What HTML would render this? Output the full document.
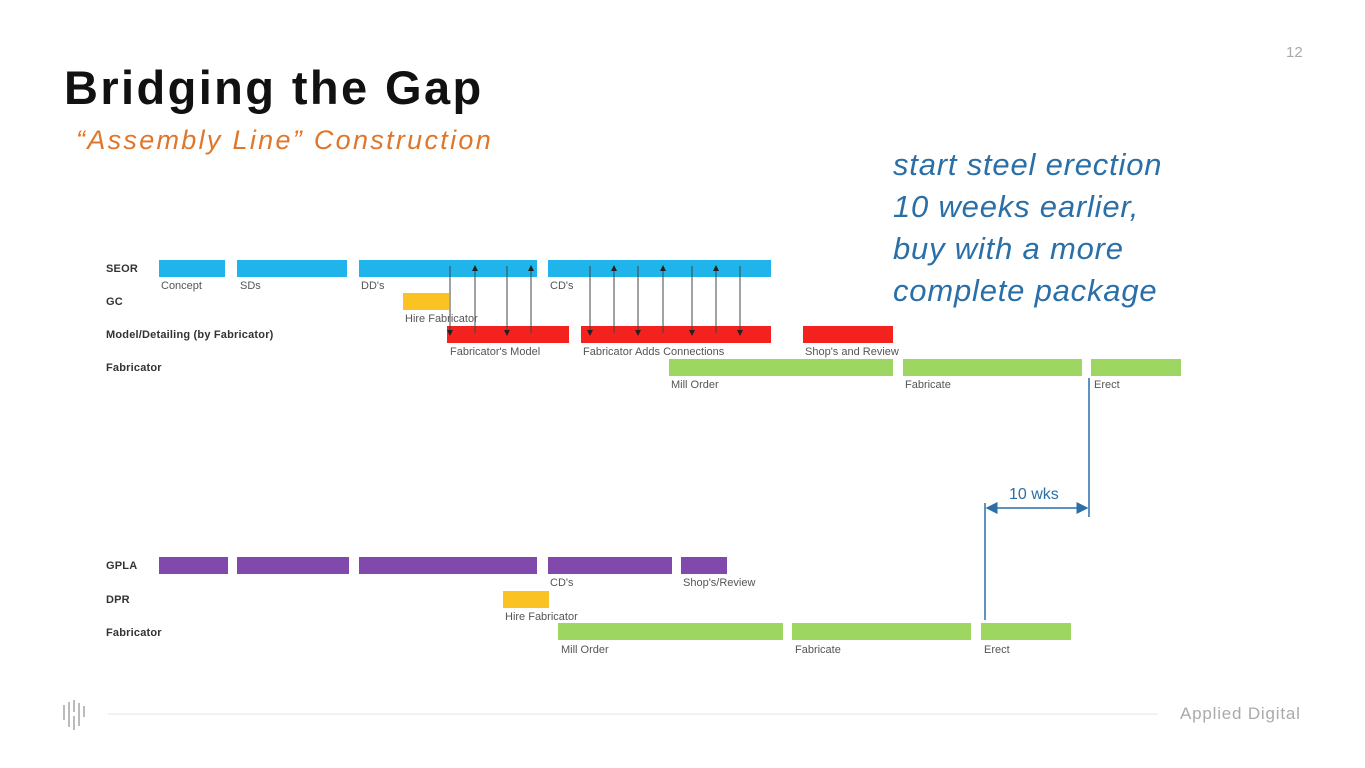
<!DOCTYPE html>
<html><head><style>
body{margin:0;width:1365px;height:768px;background:#fff;font-family:"Liberation Sans",sans-serif;position:relative;overflow:hidden}
.t{position:absolute;white-space:nowrap}
.b{position:absolute;height:17px}
.l{position:absolute;font-size:11px;color:#555;top:0}
.r{position:absolute;font-size:11px;font-weight:bold;color:#333;letter-spacing:0.2px}
</style></head><body>
<div class="t" style="left:1286px;top:44px;font-size:15px;color:#aaa">12</div>
<div class="t" style="left:64px;top:60px;font-size:47px;font-weight:bold;color:#111;letter-spacing:2.4px">Bridging the Gap</div>
<div class="t" style="left:76px;top:125px;font-size:27px;font-style:italic;color:#e0762a;letter-spacing:2.3px">“Assembly Line” Construction</div>
<div class="t" style="left:893px;top:144px;font-size:31px;font-style:italic;color:#2a6fa8;line-height:42px;letter-spacing:0.8px">start steel erection<br>10 weeks earlier,<br>buy with a more<br>complete package</div>

<div class="r" style="left:106px;top:263px">SEOR</div>
<div class="r" style="left:106px;top:296px">GC</div>
<div class="r" style="left:106px;top:329px">Model/Detailing (by Fabricator)</div>
<div class="r" style="left:106px;top:362px">Fabricator</div>

<div class="b" style="left:159px;top:260px;width:66px;background:#1fb5ea"></div>
<div class="b" style="left:237px;top:260px;width:110px;background:#1fb5ea"></div>
<div class="b" style="left:359px;top:260px;width:178px;background:#1fb5ea"></div>
<div class="b" style="left:548px;top:260px;width:223px;background:#1fb5ea"></div>
<div class="b" style="left:403px;top:293px;width:46px;background:#fbc223"></div>
<div class="b" style="left:447px;top:326px;width:122px;background:#f4221f"></div>
<div class="b" style="left:581px;top:326px;width:190px;background:#f4221f"></div>
<div class="b" style="left:803px;top:326px;width:90px;background:#f4221f"></div>
<div class="b" style="left:669px;top:359px;width:224px;background:#9ed662"></div>
<div class="b" style="left:903px;top:359px;width:179px;background:#9ed662"></div>
<div class="b" style="left:1091px;top:359px;width:90px;background:#9ed662"></div>

<div class="l" style="left:161px;top:280px">Concept</div>
<div class="l" style="left:240px;top:280px">SDs</div>
<div class="l" style="left:361px;top:280px">DD's</div>
<div class="l" style="left:550px;top:280px">CD's</div>
<div class="l" style="left:405px;top:313px">Hire Fabricator</div>
<div class="l" style="left:450px;top:346px">Fabricator's Model</div>
<div class="l" style="left:583px;top:346px">Fabricator Adds Connections</div>
<div class="l" style="left:805px;top:346px">Shop's and Review</div>
<div class="l" style="left:671px;top:379px">Mill Order</div>
<div class="l" style="left:905px;top:379px">Fabricate</div>
<div class="l" style="left:1094px;top:379px">Erect</div>

<div class="r" style="left:106px;top:560px">GPLA</div>
<div class="r" style="left:106px;top:594px">DPR</div>
<div class="r" style="left:106px;top:627px">Fabricator</div>
<div class="b" style="left:159px;top:557px;width:69px;background:#8249ad"></div>
<div class="b" style="left:237px;top:557px;width:112px;background:#8249ad"></div>
<div class="b" style="left:359px;top:557px;width:178px;background:#8249ad"></div>
<div class="b" style="left:548px;top:557px;width:124px;background:#8249ad"></div>
<div class="b" style="left:681px;top:557px;width:46px;background:#8249ad"></div>
<div class="b" style="left:503px;top:591px;width:46px;background:#fbc223"></div>
<div class="b" style="left:558px;top:623px;width:225px;background:#9ed662"></div>
<div class="b" style="left:792px;top:623px;width:179px;background:#9ed662"></div>
<div class="b" style="left:981px;top:623px;width:90px;background:#9ed662"></div>
<div class="l" style="left:550px;top:577px">CD's</div>
<div class="l" style="left:683px;top:577px">Shop's/Review</div>
<div class="l" style="left:505px;top:611px">Hire Fabricator</div>
<div class="l" style="left:561px;top:644px">Mill Order</div>
<div class="l" style="left:795px;top:644px">Fabricate</div>
<div class="l" style="left:984px;top:644px">Erect</div>

<svg style="position:absolute;left:0;top:0" width="1365" height="768">
<defs><marker id="a" markerWidth="6" markerHeight="6" refX="3" refY="3" orient="auto"><path d="M0,0L6,3L0,6z" fill="#222"/></marker>
<marker id="c" markerWidth="8" markerHeight="8" refX="7" refY="4" orient="auto"><path d="M0,0L8,4L0,8z" fill="#2a6fa8"/></marker></defs>
<g stroke="#444" stroke-width="1">
<line x1="450" y1="266" x2="450" y2="333" marker-end="url(#a)"/>
<line x1="507" y1="266" x2="507" y2="333" marker-end="url(#a)"/>
<line x1="590" y1="266" x2="590" y2="333" marker-end="url(#a)"/>
<line x1="638" y1="266" x2="638" y2="333" marker-end="url(#a)"/>
<line x1="692" y1="266" x2="692" y2="333" marker-end="url(#a)"/>
<line x1="740" y1="266" x2="740" y2="333" marker-end="url(#a)"/>
<line x1="475" y1="333" x2="475" y2="268" marker-end="url(#a)"/>
<line x1="531" y1="333" x2="531" y2="268" marker-end="url(#a)"/>
<line x1="614" y1="333" x2="614" y2="268" marker-end="url(#a)"/>
<line x1="663" y1="333" x2="663" y2="268" marker-end="url(#a)"/>
<line x1="716" y1="333" x2="716" y2="268" marker-end="url(#a)"/>
</g>
<g stroke="#2a6fa8" stroke-width="1.5">
<line x1="1089" y1="378" x2="1089" y2="517"/>
<line x1="985" y1="503" x2="985" y2="620"/>
<line x1="1035" y1="508" x2="987" y2="508" marker-end="url(#c)"/>
<line x1="1035" y1="508" x2="1087" y2="508" marker-end="url(#c)"/>
</g>
<text x="1009" y="499" font-size="16" fill="#2a6fa8" font-family="Liberation Sans">10 wks</text>
<g stroke="#bbb" stroke-width="2">
<line x1="64" y1="705" x2="64" y2="720"/><line x1="69" y1="702" x2="69" y2="715"/><line x1="74" y1="700" x2="74" y2="712"/><line x1="79" y1="703" x2="79" y2="714"/><line x1="84" y1="706" x2="84" y2="717"/>
<line x1="69" y1="715" x2="69" y2="727"/><line x1="74" y1="716" x2="74" y2="730"/><line x1="79" y1="714" x2="79" y2="726"/>
</g>
<line x1="108" y1="714" x2="1158" y2="714" stroke="#e4e4e4" stroke-width="1"/>
</svg>
<div class="t" style="left:1180px;top:704px;font-size:17px;color:#aaa;letter-spacing:0.8px">Applied Digital</div>
</body></html>
